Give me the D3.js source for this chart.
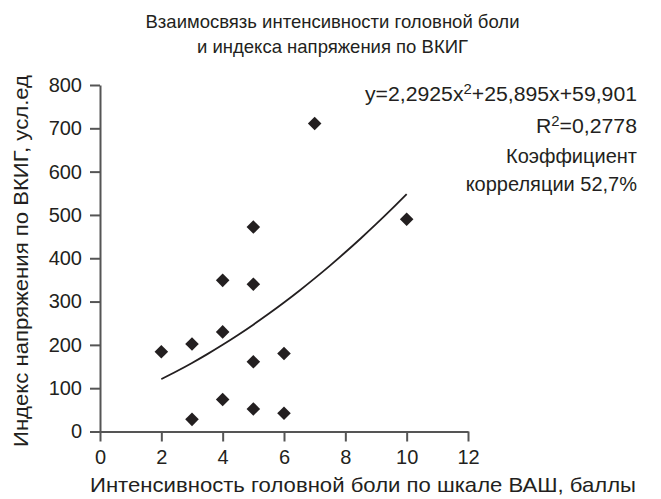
<!DOCTYPE html>
<html><head><meta charset="utf-8">
<script src="https://cdn.jsdelivr.net/npm/d3@7"></script>
<style>
body{margin:0;background:#fff;}
svg text{font-family:"Liberation Sans",Arial,sans-serif;fill:#231f20;}
</style></head>
<body><svg id="c" width="661" height="499"></svg>
<script>
const xVals = [2, 3, 3, 4, 4, 4, 5, 5, 5, 5, 6, 6, 7, 10];
const yVals = [184, 202, 28, 349, 230, 74, 472, 340, 161, 52, 180, 42, 711, 490];
const xTicks = [0, 2, 4, 6, 8, 10, 12];
const yTicks = [0, 100, 200, 300, 400, 500, 600, 700, 800];
const trendCoef = [2.2925, 25.895, 59.901];
const trendX = [2, 2.5, 3, 3.5, 4, 4.5, 5, 5.5, 6, 6.5, 7, 7.5, 8, 8.5, 9, 9.5, 10];
const titleLines = ["Взаимосвязь интенсивности головной боли", "и индекса напряжения по ВКИГ"];
const xTitle = "Интенсивность головной боли по шкале ВАШ, баллы";
const yTitle = "Индекс напряжения по ВКИГ, усл.ед";

const svg = d3.select("#c");
const x = d3.scaleLinear().domain([0, 12]).range([100, 468]);
const y = d3.scaleLinear().domain([0, 800]).range([431.5, 85]);
const axisCol = "#555";

const gx = svg.append("g").attr("transform", "translate(0,431.5)")
  .call(d3.axisBottom(x).tickValues(xTicks).tickSize(10).tickPadding(8).tickSizeOuter(0));
const gy = svg.append("g").attr("transform", "translate(100,0)")
  .call(d3.axisLeft(y).tickValues(yTicks).tickSize(10).tickPadding(8).tickSizeOuter(0));
[gx, gy].forEach(g => {
  g.select(".domain").attr("stroke", axisCol).attr("stroke-width", 2);
  g.selectAll(".tick line").attr("stroke", axisCol).attr("stroke-width", 2);
  g.selectAll(".tick text").attr("font-size", 20).attr("font-family", "Liberation Sans, Arial, sans-serif").attr("fill", "#231f20");
});

const f = v => trendCoef[0]*v*v + trendCoef[1]*v + trendCoef[2];
svg.append("path")
  .datum(trendX)
  .attr("d", d3.line().x(d => x(d)).y(d => y(f(d))).curve(d3.curveMonotoneX))
  .attr("fill", "none").attr("stroke", "#231f20").attr("stroke-width", 1.8);

svg.append("g").selectAll("path").data(xVals.map((v,i)=>[v,yVals[i]])).join("path")
  .attr("transform", d => `translate(${x(d[0])},${y(d[1])}) rotate(45)`)
  .attr("d", "M-4.8,-4.8H4.8V4.8H-4.8Z")
  .attr("fill", "#231f20");

svg.append("g").selectAll("text").data(titleLines).join("text")
  .attr("x", 332.5).attr("y", (d,i) => 28 + i*25)
  .attr("text-anchor", "middle").attr("font-size", 18.5)
  .text(d => d);

svg.append("text").attr("x", 90).attr("y", 492)
  .attr("font-size", 21).attr("textLength", 546).attr("lengthAdjust", "spacingAndGlyphs").text(xTitle);
svg.append("text").attr("transform", "translate(28,447) rotate(-90)")
  .attr("font-size", 21).attr("textLength", 372).attr("lengthAdjust", "spacingAndGlyphs").text(yTitle);

const ann = svg.append("g").attr("font-size", 20).attr("text-anchor", "end");
function annLine(yPos, parts, len) {
  const t = ann.append("text").attr("x", 637).attr("y", yPos);
  if (len) t.attr("text-anchor", "start").attr("x", 637 - len)
    .attr("textLength", len).attr("lengthAdjust", "spacingAndGlyphs");
  parts.forEach(p => {
    if (p.sup) t.append("tspan").attr("dy", -7).attr("font-size", 14).text(p.t);
    else t.append("tspan").attr("dy", p.after ? 7 : 0).text(p.t);
  });
}
annLine(101, [{t:"y=2,2925x"},{t:"2",sup:true},{t:"+25,895x+59,901",after:true}], 272);
annLine(133, [{t:"R"},{t:"2",sup:true},{t:"=0,2778",after:true}], 101);
annLine(163, [{t:"Коэффициент"}]);
annLine(191, [{t:"корреляции 52,7%"}]);
</script></body></html>
